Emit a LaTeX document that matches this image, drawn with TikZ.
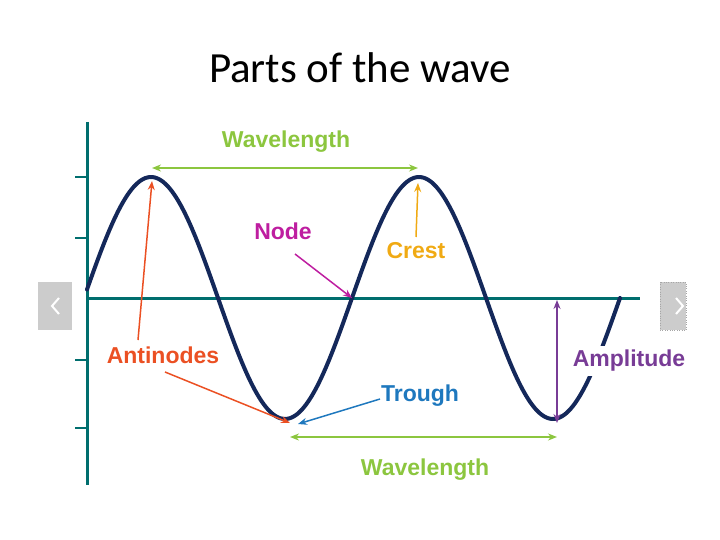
\documentclass[tikz,border=0pt]{standalone}
\usepackage{fontspec}
\setmainfont{Carlito}
\newfontfamily\lab{Liberation Sans}
\usetikzlibrary{arrows.meta}
\definecolor{teal1}{RGB}{0,110,110}
\definecolor{navy1}{RGB}{20,40,90}
\definecolor{grn}{RGB}{140,198,63}
\definecolor{mag}{RGB}{190,30,160}
\definecolor{crst}{RGB}{240,170,20}
\definecolor{anti}{RGB}{235,80,35}
\definecolor{trgh}{RGB}{30,120,190}
\definecolor{ampl}{RGB}{120,60,150}
\tikzset{
  lbl/.style={font=\lab\bfseries\fontsize{23}{25}\selectfont, inner sep=0pt},
  arr/.style={-{Stealth[length=9pt,width=7pt]}, line width=1.5pt},
  darr/.style={{Stealth[length=9pt,width=7pt]}-{Stealth[length=9pt,width=7pt]}, line width=1.5pt},
}
\begin{document}
\begin{tikzpicture}[x=1pt,y=-1pt]
\useasboundingbox (0,0) rectangle (720,540);
\node[font=\fontsize{43}{46}\selectfont] (title) at (360,68) {Parts of the wave};
% nav boxes
\fill[gray!40] (38,282) rectangle (72,330);
\draw[white, line width=2pt] (59,298) -- (52,306) -- (59,314);
\fill[gray!40] (660,282) rectangle (686,330);
\draw[gray!70, dotted] (660,282) rectangle (686,330);
\draw[white, line width=2pt] (676,298) -- (683,306) -- (676,314);
% axes
\draw[teal1, line width=3pt] (87,122) -- (87,485);
\draw[teal1, line width=3pt] (87,298) -- (640,298);
\foreach \yy in {177,238,360,428} \draw[teal1, line width=1.5pt] (75,\yy) -- (87,\yy);
% wave
\draw[navy1, line width=4pt, line cap=round] plot[smooth, samples=120, domain=87:620] (\x,{298-121*sin((\x-84)/268*360)});
% coordinates
\coordinate (p1) at (152,181);
\coordinate (t1) at (290,423);
\coordinate (n1) at (352,298);
\coordinate (p2) at (418,183);
\coordinate (t2) at (557,423);
% labels
\node[lbl, text=grn] (wl1) at (286,142) {Wavelength};
\node[lbl, text=mag] (node) at (283,231) {Node};
\node[lbl, text=crst] (crest) at (416,251) {Crest};
\node[lbl, text=anti] (anti) at (163,355) {Antinodes};
\node[lbl, text=trgh] (trough) at (420,396) {Trough};
\node[lbl, text=ampl, fill=white, inner xsep=1pt, inner ysep=4pt] (amp) at (629,361) {Amplitude};
\node[lbl, text=grn] (wl2) at (425,470) {Wavelength};
% arrows
\coordinate (w1a) at (152,168); \coordinate (w1b) at (418,168);
\draw[darr, grn] (w1a) -- (w1b);
\coordinate (w2a) at (290,437); \coordinate (w2b) at (557,437);
\draw[darr, grn] (w2a) -- (w2b);
\coordinate (ns) at (295,254);
\draw[arr, mag] (ns) -- (n1);
\coordinate (cs) at (416,237);
\draw[arr, crst] (cs) -- (p2);
\coordinate (as1) at (138,340); \coordinate (as2) at (165,372);
\draw[arr, anti] (as1) -- (p1);
\draw[arr, anti] (as2) -- (t1);
\coordinate (ts) at (380,399); \coordinate (te) at (298,424);
\draw[arr, trgh] (ts) -- (te);
\coordinate (aa) at (557,300); \coordinate (ab) at (557,423);
\draw[darr, ampl] (aa) -- (ab);
\end{tikzpicture}
\end{document}
